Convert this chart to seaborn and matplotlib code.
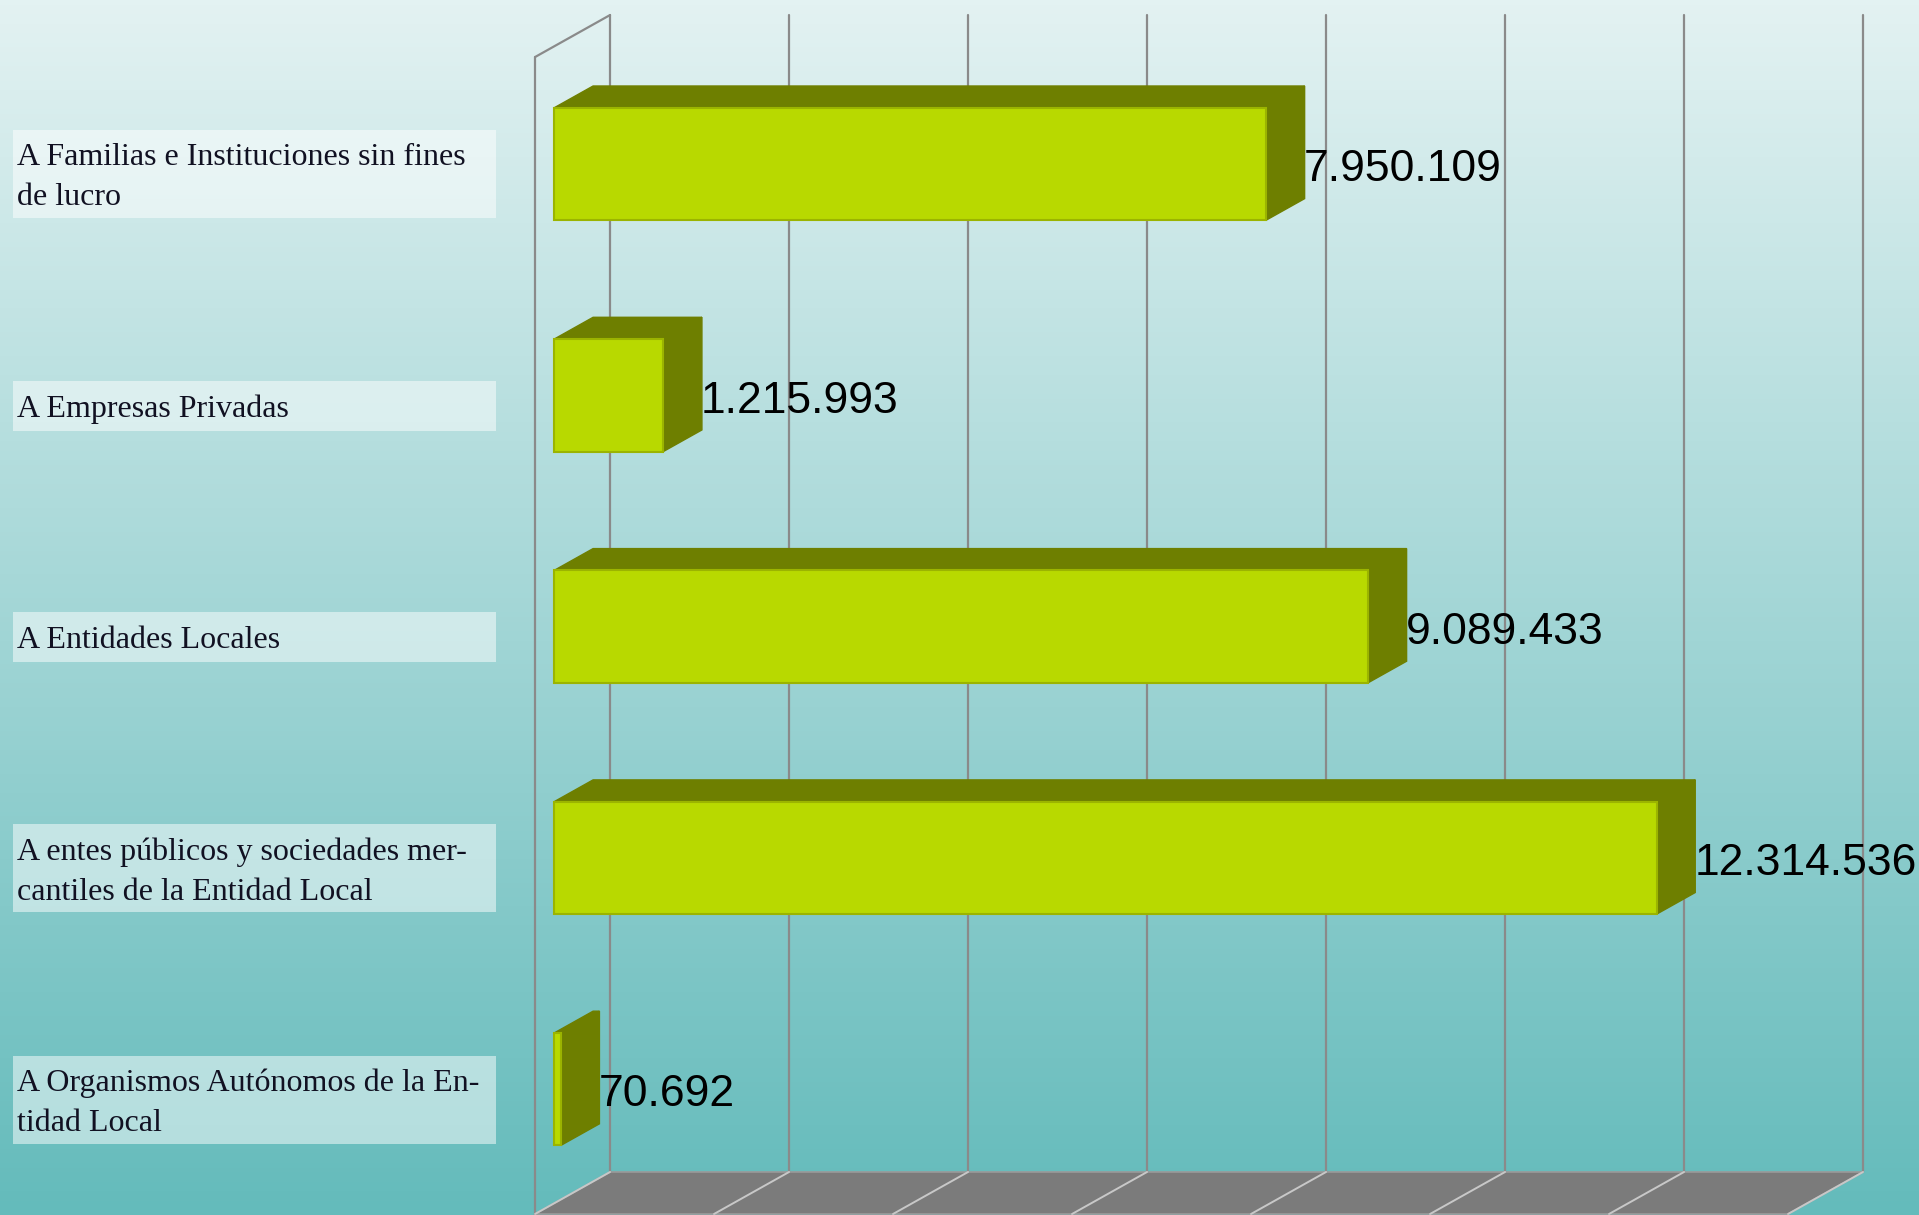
import numpy as np
import pandas as pd
import matplotlib
matplotlib.use("Agg")
import matplotlib.pyplot as plt
import seaborn as sns
from matplotlib.patches import Polygon, Rectangle

"""
Data: transfers by recipient.
"""
categorias = [
    "A Familias e Instituciones sin fines\nde lucro",
    "A Empresas Privadas",
    "A Entidades Locales",
    "A entes públicos y sociedades mer-\ncantiles de la Entidad Local",
    "A Organismos Autónomos de la En-\ntidad Local",
]
importes = [7950109, 1215993, 9089433, 12314536, 70692]
etiquetas = ["7.950.109", "1.215.993", "9.089.433", "12.314.536", "70.692"]
grid_ticks = [0, 2, 4, 6, 8, 10, 12, 14]

df = pd.DataFrame({"cat": categorias, "valor": np.array(importes) / 1e6})

sns.set_theme(style="white")
plt.rcParams["font.family"] = ["Liberation Sans Narrow", "Liberation Sans", "DejaVu Sans"]

W, H = 1919, 1215
fig = plt.figure(figsize=(W / 100, H / 100), dpi=100)

# background gradient
bg = fig.add_axes([0, 0, 1, 1], zorder=0)
top = np.array([227, 242, 242]) / 255
bot = np.array([100, 187, 187]) / 255
t = np.linspace(0, 1, 256)[:, None]
grad = top + (bot - top) * t
bg.imshow(grad[:, None, :].repeat(2, axis=1), aspect="auto", extent=[0, 1, 0, 1])
bg.set_axis_off()

ax = fig.add_axes([0, 0, 1, 1], zorder=1)
ax.patch.set_alpha(0)

# depth vector and offsets (data units, bar front-face plane as reference)
D = np.array([0.838, -0.1816])
f_front = 0.258
f_bar = 0.516
front_off = -f_front * D
back_off = (1 - f_front) * D
y_top_back = -0.644
y_floor_back = 4.358

# back wall grid lines
for g in grid_ticks:
    ax.plot([g + back_off[0]] * 2, [y_top_back, y_floor_back], color="#8a8a8a", lw=1.6, zorder=1)

# left wall outline
xf = front_off[0]
ax.plot([xf, xf], [y_top_back - D[1], y_floor_back - D[1] + 0.2], color="#8a8a8a", lw=1.6, zorder=1)
ax.plot([xf, back_off[0]], [y_top_back - D[1], y_top_back], color="#8a8a8a", lw=1.6, zorder=1)

# floor
fl = [
    (front_off[0] + 0, y_floor_back - D[1]),
    (back_off[0] + 0, y_floor_back),
    (back_off[0] + grid_ticks[-1], y_floor_back),
    (front_off[0] + grid_ticks[-1], y_floor_back - D[1]),
]
ax.add_patch(Polygon(fl, closed=True, facecolor="#7b7b7b", edgecolor="#9a9a9a", lw=1.2, zorder=1))
for g in grid_ticks:
    ax.plot([g + back_off[0], g + front_off[0]], [y_floor_back, y_floor_back - D[1]],
            color="#c8c8c8", lw=1.4, zorder=1.5)

# front faces of the bars
sns.barplot(data=df, x="valor", y="cat", orient="h", width=0.487,
            color="#b8d900", saturation=1, edgecolor="#9bb400", linewidth=1.5,
            ax=ax, zorder=3)

dark = "#6e7f00"
for p, lab in zip(ax.containers[0].patches, etiquetas):
    x0, y0 = p.get_x(), p.get_y()
    w, h = p.get_width(), p.get_height()
    ytop = min(y0, y0 + h)
    ybot = max(y0, y0 + h)
    dx, dy = D * f_bar
    # top face
    ax.add_patch(Polygon([(x0, ytop), (x0 + dx, ytop + dy), (x0 + w + dx, ytop + dy), (x0 + w, ytop)],
                         closed=True, facecolor=dark, edgecolor=dark, lw=1, zorder=2.5))
    # side face
    ax.add_patch(Polygon([(x0 + w, ytop), (x0 + w + dx, ytop + dy), (x0 + w + dx, ybot + dy), (x0 + w, ybot)],
                         closed=True, facecolor=dark, edgecolor=dark, lw=1, zorder=2.5))
    ax.text(x0 + w + dx - 0.01, (ytop + ybot) / 2 + 0.025, lab, ha="left", va="center",
            fontsize=32, color="black", zorder=5)

ax.set_xlim(-554.4 / 89.5, (W - 554.4) / 89.5)
ax.set_ylim(4.544, -0.709)
ax.set_axis_off()

# category labels in light boxes
x_left = -554.4 / 89.5
for i, c in enumerate(categorias):
    nl = c.count("\n") + 1
    bh = 0.381 if nl == 2 else 0.217
    yc = i + 0.045
    ax.add_patch(Rectangle((x_left + 13 / 89.5, yc - bh / 2), 483 / 89.5, bh,
                           facecolor="white", alpha=0.5, edgecolor="none", zorder=4))
    ax.text(x_left + 17 / 89.5, yc + 0.015, c, ha="left", va="center", fontsize=23,
            family=["Liberation Serif", "DejaVu Serif"], color="#111122",
            linespacing=1.5, zorder=5)

fig.savefig("out.png", dpi=100)
